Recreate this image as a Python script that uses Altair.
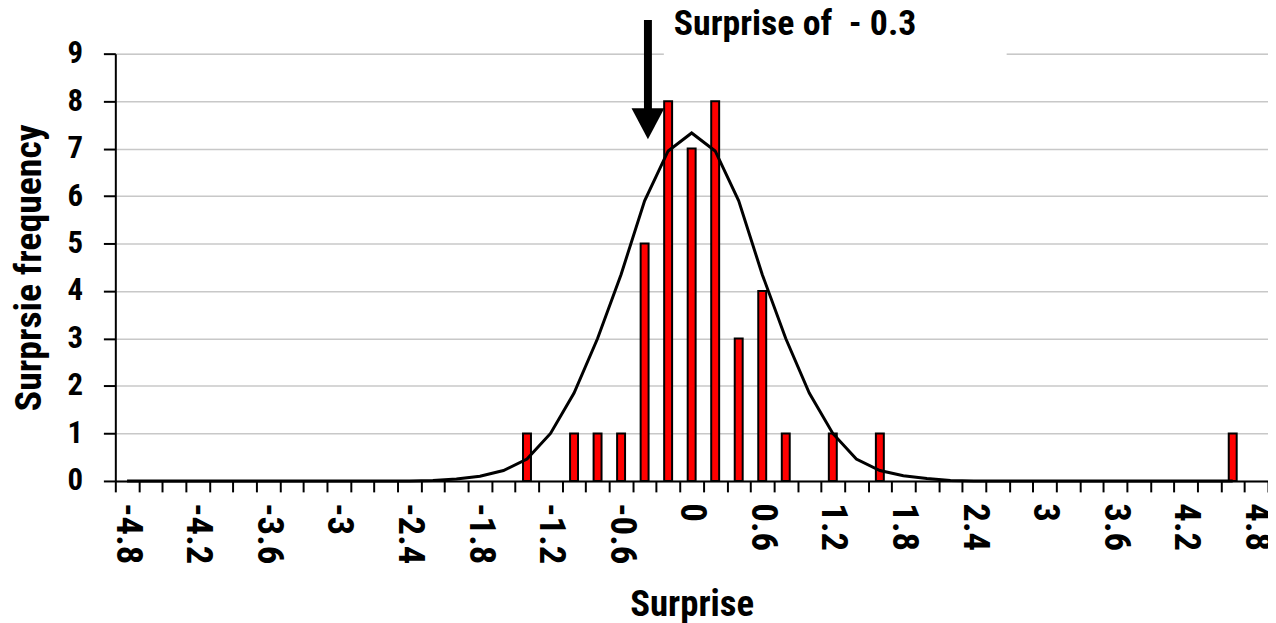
import json
import altair as alt
import pandas as pd

# ---- data ----
categories = ["-4.8", "-4.6", "-4.4", "-4.2", "-4", "-3.8", "-3.6", "-3.4", "-3.2", "-3",
              "-2.8", "-2.6", "-2.4", "-2.2", "-2", "-1.8", "-1.6", "-1.4", "-1.2", "-1",
              "-0.8", "-0.6", "-0.4", "-0.2", "0", "0.2", "0.4", "0.6", "0.8", "1",
              "1.2", "1.4", "1.6", "1.8", "2", "2.2", "2.4", "2.6", "2.8", "3",
              "3.2", "3.4", "3.6", "3.8", "4", "4.2", "4.4", "4.6", "4.8"]

counts = [0, 0, 0, 0, 0, 0, 0, 0, 0, 0,
          0, 0, 0, 0, 0, 0, 0, 1, 0, 1,
          1, 1, 5, 8, 7, 8, 3, 4, 1, 0,
          1, 0, 1, 0, 0, 0, 0, 0, 0, 0,
          0, 0, 0, 0, 0, 0, 0, 1, 0]

curve_categories = categories[:-1]  # line runs from -4.8 to 4.6
curve_values = [0, 0, 0, 0, 0, 0, 0, 0, 0, 0,
                0, 0, 0, 0.01, 0.04, 0.1, 0.22, 0.46, 1.0, 1.85,
                3.0, 4.35, 5.9, 6.95, 7.33, 6.95, 5.9, 4.35, 3.0, 1.85,
                1.0, 0.46, 0.22, 0.11, 0.05, 0.01, 0, 0, 0, 0,
                0, 0, 0, 0, 0, 0, 0, 0]

shown_labels = ["-4.8", "-4.2", "-3.6", "-3", "-2.4", "-1.8", "-1.2", "-0.6", "0",
                "0.6", "1.2", "1.8", "2.4", "3", "3.6", "4.2", "4.8"]

annotation_text = "Surprise of\u00a0\u00a0- 0.3"
x_title = "Surprise"
y_title = "Surprsie frequency"

FONT = "Roboto Condensed, Liberation Sans Narrow, Arial Narrow, DejaVu Sans Condensed, sans-serif"

bars_df = pd.DataFrame({"cat": categories, "count": counts})
curve_df = pd.DataFrame({"cat": curve_categories, "value": curve_values})

label_expr = "indexof(%s, datum.value) >= 0 ? datum.value : ''" % json.dumps(shown_labels)

x_enc = alt.X(
    "cat:N",
    sort=categories,
    scale=alt.Scale(domain=categories, paddingInner=0, paddingOuter=0),
    axis=alt.Axis(
        title=x_title,
        labelExpr=label_expr,
        labelAngle=90,
        labelOverlap=False,
        labelFont=FONT,
        labelFontSize=37,
        labelFontWeight="bold",
        labelColor="black",
        labelPadding=11,
        tickBand="extent",
        tickSize=11,
        tickWidth=2,
        tickColor="black",
        domainColor="black",
        domainWidth=2,
        grid=False,
        titleFont=FONT,
        titleFontSize=37,
        titleFontWeight="bold",
        titleColor="black",
        titlePadding=23,
    ),
)

y_scale = alt.Scale(domain=[0, 9], nice=False, zero=True)
y_axis = alt.Axis(
    title=y_title,
    values=[0, 1, 2, 3, 4, 5, 6, 7, 8, 9],
    format="d",
    grid=True,
    gridColor="#c8c8c8",
    gridWidth=1.5,
    domainColor="black",
    domainWidth=2,
    tickColor="black",
    tickWidth=2,
    tickSize=12,
    labelFont=FONT,
    labelFontSize=31,
    labelFontWeight="bold",
    labelColor="black",
    labelPadding=21,
    titleFont=FONT,
    titleFontSize=38,
    titleFontWeight="bold",
    titleColor="black",
    titlePadding=19,
)

bars = (
    alt.Chart(bars_df)
    .transform_filter("datum.count > 0")
    .mark_bar(size=8, color="#ff0000", stroke="black", strokeWidth=2)
    .encode(x=x_enc, y=alt.Y("count:Q", scale=y_scale, axis=y_axis))
)

curve = (
    alt.Chart(curve_df)
    .mark_line(color="black", strokeWidth=3)
    .encode(x=alt.X("cat:N", sort=categories), y=alt.Y("value:Q"))
)

one = alt.Data(values=[{}])

label_box = alt.Chart(one).mark_rect(color="white").encode(
    x=alt.value(552), x2=alt.value(897), y=alt.value(-40), y2=alt.value(4)
)
label_text = alt.Chart(one).mark_text(
    text=annotation_text, font=FONT, fontSize=36, fontWeight="bold",
    align="left", baseline="alphabetic", color="black"
).encode(x=alt.value(562), y=alt.value(-19))

arrow_shaft = alt.Chart(one).mark_rule(color="black", strokeWidth=8).encode(
    x=alt.value(536), y=alt.value(-34), y2=alt.value(57)
)
arrow_head = alt.Chart(one).mark_point(
    shape="M-1,-0.94L1,-0.94L0,0.94Z", filled=True, color="black", opacity=1, size=1089
).encode(x=alt.value(536), y=alt.value(70.5))

chart = (
    alt.layer(bars, curve, label_box, label_text, arrow_shaft, arrow_head)
    .properties(
        width=1160,
        height=430,
        autosize=alt.AutoSizeParams(type="none"),
        padding={"left": 108, "top": 44, "right": 0, "bottom": 141},
    )
    .configure_view(stroke=None)
    .configure(background="white")
)

chart.save("out.html", embed_options={"renderer": "svg", "actions": False})
